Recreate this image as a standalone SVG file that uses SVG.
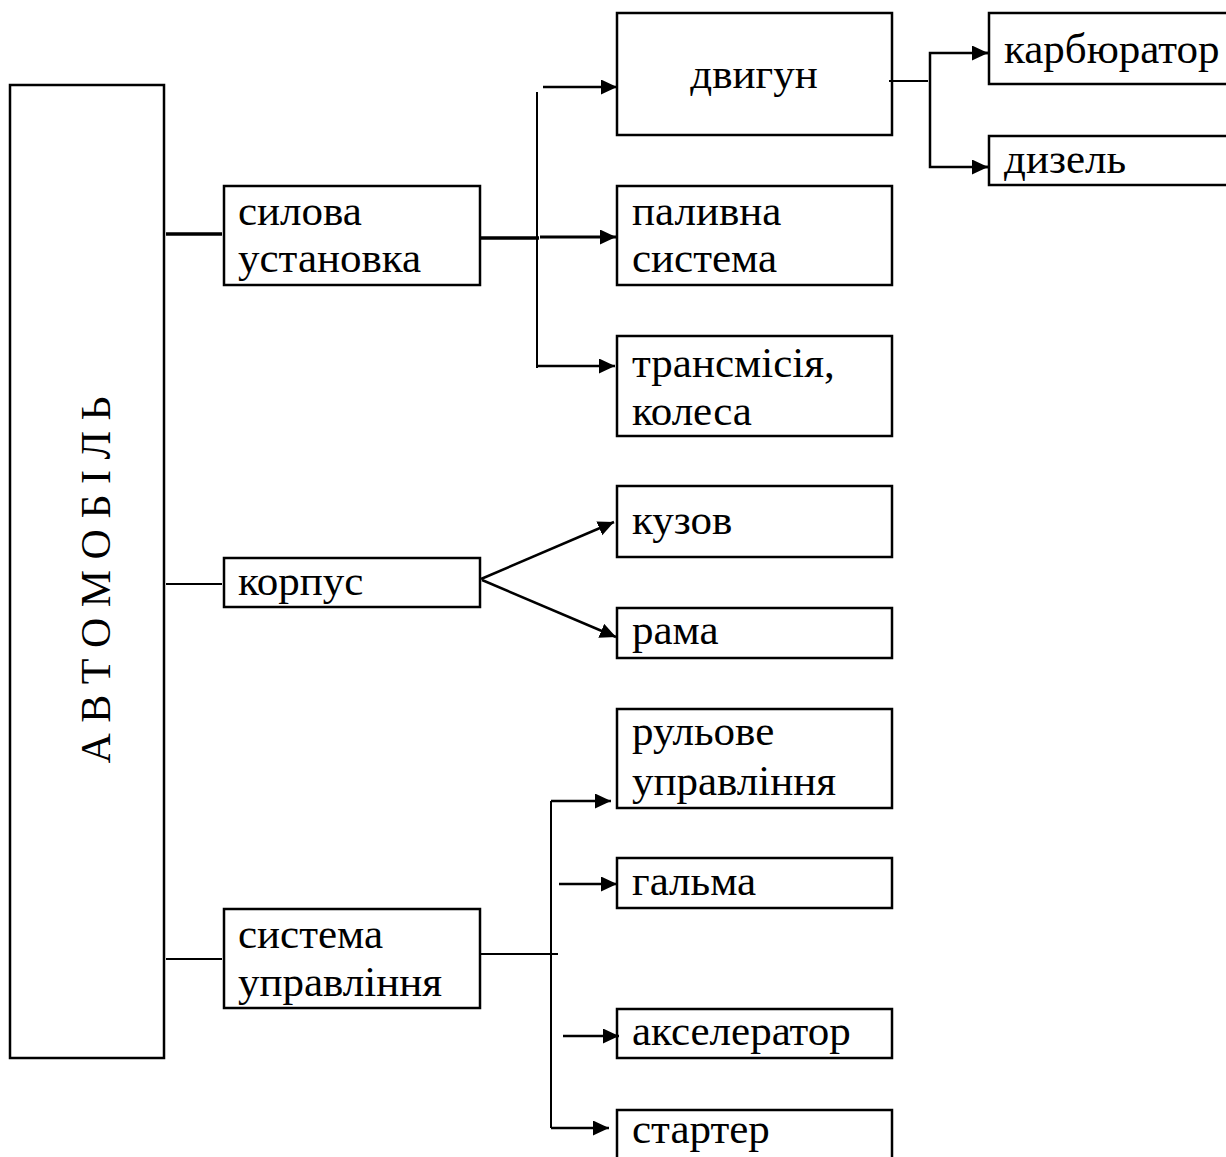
<svg xmlns="http://www.w3.org/2000/svg" width="1226" height="1157" viewBox="0 0 1226 1157">
<defs>
<style>
.box{fill:#fff;stroke:#000;stroke-width:2.5}
.t{font-family:"Liberation Serif","Times New Roman",serif;font-size:43px;fill:#000}
.ln{stroke:#000;stroke-width:2;fill:none}
.thk{stroke:#000;stroke-width:3.5;fill:none}
.ar{stroke:#000;stroke-width:2.5;fill:none;marker-end:url(#ah)}
</style>
<marker id="ah" markerUnits="userSpaceOnUse" markerWidth="17" markerHeight="16" refX="16" refY="7.5" orient="auto">
<path d="M0,0 L16,7.5 L0,15 z" fill="#000"/>
</marker>
</defs>
<rect width="1226" height="1157" fill="#fff"/>

<g id="avtomobil">
<rect class="box" x="10" y="85" width="154" height="973"/>
<text class="t" style="font-size:42px" text-anchor="middle" transform="translate(110,580) rotate(-90)">А В Т О М О Б І Л Ь</text>
</g>

<g id="sylova">
<rect class="box" x="224" y="186" width="256" height="99"/>
<text class="t" x="238" y="225">силова</text>
<text class="t" x="238" y="272">установка</text>
</g>
<g id="korpus">
<rect class="box" x="224" y="558" width="256" height="49"/>
<text class="t" x="238" y="595">корпус</text>
</g>
<g id="systema">
<rect class="box" x="224" y="909" width="256" height="99"/>
<text class="t" x="238" y="948">система</text>
<text class="t" x="238" y="996">управління</text>
</g>

<g id="dvygun">
<rect class="box" x="617" y="13" width="275" height="122"/>
<text class="t" x="754" y="88" text-anchor="middle">двигун</text>
</g>
<g id="palyvna">
<rect class="box" x="617" y="186" width="275" height="99"/>
<text class="t" x="632" y="225">паливна</text>
<text class="t" x="632" y="272">система</text>
</g>
<g id="transmisiya">
<rect class="box" x="617" y="336" width="275" height="100"/>
<text class="t" x="632" y="377">трансмісія,</text>
<text class="t" x="632" y="425">колеса</text>
</g>
<g id="kuzov">
<rect class="box" x="617" y="486" width="275" height="71"/>
<text class="t" x="632" y="534">кузов</text>
</g>
<g id="rama">
<rect class="box" x="617" y="608" width="275" height="50"/>
<text class="t" x="632" y="644">рама</text>
</g>
<g id="rulove">
<rect class="box" x="617" y="709" width="275" height="99"/>
<text class="t" x="632" y="745">рульове</text>
<text class="t" x="632" y="795">управління</text>
</g>
<g id="galma">
<rect class="box" x="617" y="858" width="275" height="50"/>
<text class="t" x="632" y="895">гальма</text>
</g>
<g id="akselerator">
<rect class="box" x="617" y="1009" width="275" height="49"/>
<text class="t" x="632" y="1045">акселератор</text>
</g>
<g id="starter">
<rect class="box" x="617" y="1110" width="275" height="60"/>
<text class="t" x="632" y="1143">стартер</text>
</g>
<g id="karbyurator">
<rect class="box" x="989" y="13" width="250" height="71"/>
<text class="t" x="1004" y="63">карбюратор</text>
</g>
<g id="dyzel">
<rect class="box" x="989" y="136" width="250" height="49"/>
<text class="t" x="1004" y="173">дизель</text>
</g>

<g id="connectors">
<line class="thk" x1="166" y1="234" x2="222" y2="234"/>
<line class="ln" x1="166" y1="584" x2="222" y2="584"/>
<line class="ln" x1="166" y1="959" x2="222" y2="959"/>

<line class="thk" x1="480" y1="238" x2="539" y2="238"/>
<line class="ln" x1="537" y1="92" x2="537" y2="368"/>
<line class="ar" x1="543" y1="87" x2="617" y2="87"/>
<line class="ar" x1="540" y1="237" x2="616" y2="237" style="stroke-width:3"/>
<line class="ar" x1="537" y1="366" x2="615" y2="366"/>

<line class="ln" x1="889" y1="81" x2="928" y2="81"/>
<polyline class="ar" points="988,53 930,53 930,167 988,167" style="marker-end:none"/>
<line class="ar" x1="978" y1="53" x2="988" y2="53"/>
<line class="ar" x1="978" y1="167" x2="988" y2="167"/>

<line class="ar" x1="481" y1="579" x2="614" y2="522"/>
<line class="ar" x1="482" y1="580" x2="616" y2="637"/>

<line class="ln" x1="480" y1="954" x2="558" y2="954"/>
<line class="ln" x1="551" y1="801" x2="551" y2="1128"/>
<line class="ar" x1="551" y1="801" x2="611" y2="801"/>
<line class="ar" x1="559" y1="884" x2="617" y2="884"/>
<line class="ar" x1="563" y1="1036" x2="619" y2="1036"/>
<line class="ar" x1="551" y1="1128" x2="609" y2="1128"/>
</g>
</svg>
